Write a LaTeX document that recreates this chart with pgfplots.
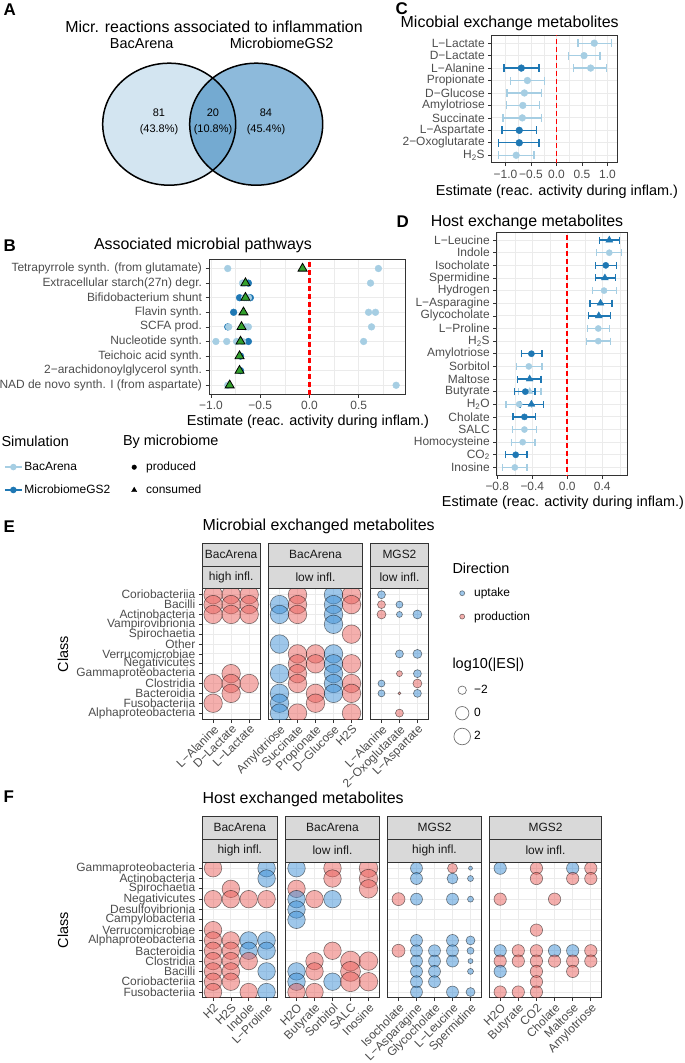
\documentclass[border=0pt]{standalone}
\usepackage{fontspec}
\setmainfont{Liberation Sans}
\usepackage{pgfplots}
\usepackage{pgfplotstable}
\pgfplotsset{compat=1.18}

\definecolor{lb}{HTML}{A6CEE3}
\definecolor{db}{HTML}{1F78B4}
\definecolor{grn}{HTML}{33A02C}
\definecolor{tk}{HTML}{4D4D4D}
\definecolor{gridc}{HTML}{EBEBEB}
\definecolor{frame}{HTML}{333333}
\definecolor{stripc}{HTML}{D9D9D9}
\definecolor{upc}{HTML}{3D8FD6}
\definecolor{prc}{HTML}{E9605C}
\definecolor{vennL}{HTML}{D3E5F1}
\definecolor{vennR}{HTML}{8DBADB}
\definecolor{vennM}{HTML}{74AAD1}
\definecolor{zline}{HTML}{FF0000}

\newcommand{\ftitle}{\fontsize{16}{19}\selectfont}
\newcommand{\faxis}{\fontsize{14.5}{17}\selectfont}
\newcommand{\ftick}{\fontsize{12}{13}\selectfont}
\newcommand{\fnum}{\fontsize{11}{13}\selectfont}
\newcommand{\flet}{\fontsize{17}{20}\selectfont\bfseries}

\pgfplotsset{
  bw/.style={
    scale only axis,
    axis line style={draw=frame, line width=0.9bp},
    xmajorgrids, ymajorgrids, xminorgrids,
    major grid style={draw=gridc, line width=0.9bp},
    minor grid style={draw=gridc, line width=0.45bp},
    tick align=outside, major tick length=3.5bp, minor tick length=0pt,
    tick style={draw=frame, line width=0.7bp},
    xtick pos=bottom, ytick pos=left,
    ticklabel style={font=\ftick, text=tk},
    y dir=reverse,
  },
  zero/.style={forget plot, no marks, solid, draw=zline, color=zline, line width=1.8bp, dash pattern=on 5bp off 3bp},
  facet/.style={
    scale only axis,
    clip marker paths=true,
    axis line style={draw=frame, line width=0.9bp},
    xmajorgrids, ymajorgrids,
    major grid style={draw=gridc, line width=0.9bp},
    tick align=outside, major tick length=3.5bp,
    tick style={draw=frame, line width=0.7bp},
    xtick pos=bottom, ytick pos=left,
    ticklabel style={font=\ftick, text=tk},
    xticklabel style={rotate=45, anchor=north east, inner sep=1bp},
    y dir=reverse,
    ytick={0,...,12},
    colormap={ud}{color(0cm)=(upc) color(1cm)=(prc)},
    point meta min=0, point meta max=1,
  },
  nolab/.style={yticklabels={}, ytick style={draw=none}},
  bub/.style={scatter, only marks, mark=*, point meta=\thisrow{d},
    scatter/use mapped color={draw=black, draw opacity=0.5, fill=mapped color, fill opacity=0.5, line width=0.6bp},
    visualization depends on={\thisrow{r} \as \rad},
    scatter/@pre marker code/.append style={/tikz/mark size=\rad}},
  keyimg/.style={legend image code/.code={\path[draw=none, fill=none] (0bp,-8bp) rectangle (20bp,8bp);
    \draw[mark repeat=2,mark phase=2,##1] plot coordinates {(0bp,0bp) (10bp,0bp) (20bp,0bp)};}},
  ebar/.style={only marks, error bars/.cd, x dir=both, x explicit,
    error bar style={line width=1.3bp},
    error mark options={rotate=90, line width=1.3bp, mark size=#1}},
  hidleg/.style={hide axis, scale only axis, width=10bp, height=10bp,
    xmin=0, xmax=1, ymin=0, ymax=1, legend cell align=left,
    legend style={at={(0,1)}, anchor=north west, draw=none, fill=none,
      inner sep=0pt, row sep=#1, font=\ftick}},
}

% ---------- panel B data
\pgfplotstableread{
x y
-0.83 1
0.70 1
-0.68 2
-0.66 2
0.62 2
-0.62 3
-0.66 3
-0.64 3
0.60 4
0.67 4
-0.82 5
-0.62 5
-0.65 5
0.63 5
-0.95 6
-0.84 6
-0.74 6
-0.68 6
0.55 6
-0.83 9
0.88 9
}\Blight
\pgfplotstableread{
x y
-0.62 2
-0.71 3
-0.60 3
-0.77 4
-0.83 5
-0.62 6
-0.70 7
-0.70 8
}\Bdark
\pgfplotstableread{
x y
-0.07 1
-0.65 2
-0.65 3
-0.67 4
-0.69 5
-0.70 6
-0.71 7
-0.71 8
-0.81 9
}\Btri
\pgfplotstableread{
x y
0 0
0 20
}\Zero

% ---------- panel C data
\pgfplotstableread{
x y lo hi
0.74 1 0.42 1.08
0.54 2 0.23 0.85
0.67 3 0.33 0.98
-0.57 4 -0.90 -0.24
-0.63 5 -0.97 -0.29
-0.66 6 -0.98 -0.33
-0.67 7 -1.05 -0.30
-0.79 10 -1.14 -0.44
}\Clight
\pgfplotstableread{
x y lo hi
-0.69 3 -1.03 -0.34
-0.73 8 -1.07 -0.39
-0.73 9 -1.13 -0.34
}\Cdark

% ---------- panel D data
\pgfplotstableread{
x y lo hi
0.48 2 0.335 0.62
0.42 5 0.29 0.56
0.354 8 0.23 0.48
0.354 9 0.22 0.49
-0.44 11 -0.58 -0.29
-0.55 14 -0.70 -0.41
-0.49 16 -0.63 -0.35
-0.51 17 -0.64 -0.37
-0.60 19 -0.74 -0.46
}\Dlc
\pgfplotstableread{
x y lo hi
-0.43 13 -0.56 -0.30
}\Dlt
\pgfplotstableread{
x y lo hi
0.44 3 0.32 0.56
-0.41 10 -0.52 -0.29
-0.48 13 -0.60 -0.37
-0.49 15 -0.62 -0.36
-0.59 18 -0.71 -0.46
}\Ddc
\pgfplotstableread{
x y lo hi
0.48 1 0.366 0.594
0.43 4 0.32 0.55
0.38 6 0.26 0.51
0.36 7 0.24 0.49
-0.43 12 -0.57 -0.30
-0.41 14 -0.54 -0.27
}\Ddt

% ---------- panel E data (d: 0 uptake, 1 production)
\pgfplotstableread{
x y r d
0 0 9.3 1
1 0 9.3 1
2 0 9.3 1
0 1 9.3 1
1 1 9.3 1
2 1 9.3 1
0 2 9.3 1
1 2 9.3 1
2 2 9.3 1
0 9 9.3 1
0 11 9.3 1
1 8 9.3 1
1 9 9.3 1
1 10 9.3 1
2 9 9.3 1
}\Eone
\pgfplotstableread{
x y r d
0 1 9.3 0
0 2 9.3 0
0 5 9.3 0
0 8 9.3 0
0 10 9.3 0
0 11 9.3 0
0 12 9.3 0
1 0 9.3 1
1 1 9.3 1
1 2 9.3 1
1 6 9.3 1
1 7 9.3 1
1 8 9.3 1
1 9 9.3 1
1 12 9.3 1
2 6 9.3 1
2 7 9.3 1
2 10 9.3 1
2 11 9.3 1
3 0 9.3 0
3 1 9.3 0
3 2 9.3 0
3 3 9.3 0
3 6 9.3 0
3 7 9.3 0
3 8 9.3 0
3 9 9.3 0
3 10 9.3 0
4 0 9.3 1
4 1 9.3 1
4 4 9.3 1
4 7 9.3 1
4 9 9.3 1
4 10 9.3 1
4 12 9.3 1
}\Etwo
\pgfplotstableread{
x y r d
0 0 4 0
0 1 4 1
0 2 4.5 1
0 9 3.5 0
0 10 3.5 0
1 1 3.5 0
1 2 3 0
1 6 4 0
1 8 3 1
1 10 1.5 1
1 12 4 1
2 2 4.5 0
2 6 4.5 0
2 8 4 0
2 9 4.5 1
2 10 4 0
}\Ethree

% ---------- panel F data
\pgfplotstableread{
x y r d
0 0 8.8 1
0 3 8.8 1
0 6 8.8 1
0 7 8.8 1
0 8 8.8 1
0 9 8.8 1
0 10 8.8 1
0 11 8.8 1
0 12 8.8 1
1 2 8.8 1
1 3 8.8 1
1 7 8.8 1
1 8 8.8 1
1 9 8.8 1
1 10 8.8 1
1 11 8.8 1
2 3 8.8 1
2 7 8.8 0
2 8 8.8 0
2 9 8.8 1
2 12 8.8 1
3 0 8.8 0
3 1 8.8 0
3 3 8.8 1
3 7 8.8 0
3 8 8.8 0
3 10 8.8 0
3 12 8.8 0
}\Fone
\pgfplotstableread{
x y r d
0 0 8.8 0
0 2 8.8 1
0 3 8.8 0
0 4 8.8 0
0 5 8.8 0
0 10 8.8 0
0 11 8.8 0
0 12 8.8 1
1 3 8.8 1
1 9 8.8 1
1 10 8.8 1
1 12 8.8 1
2 0 8.8 1
2 1 8.8 1
2 3 8.8 0
2 8 8.8 1
2 11 8.8 0
3 9 10 1
3 10 10 1
3 11 10 1
4 0 9.3 1
4 1 9.3 1
4 2 9.3 1
4 9 9.3 1
4 11 9.3 1
}\Ftwo
\pgfplotstableread{
x y r d
0 3 6.5 1
0 8 6.5 1
1 0 6 0
1 1 6 0
1 3 6 0
1 7 6 0
1 8 6 0
1 9 6 0
1 10 6 0
1 11 6 0
1 12 6 0
2 8 6 0
2 9 6 0
2 10 6 0
2 11 6 0
3 0 5 1
3 1 5.5 0
3 3 6 0
3 7 6 0
3 8 6 0
3 9 6 0
3 12 6 0
4 0 2 0
4 1 3 0
4 3 3 0
4 7 4.5 0
4 8 3.5 0
4 9 2.5 0
4 10 3 0
4 12 4.5 0
}\Fthree
\pgfplotstableread{
x y r d
0 0 6.2 0
0 3 6.2 1
0 8 6.2 0
0 9 6.2 1
0 10 6.2 0
0 12 6.2 1
1 8 6.2 1
1 9 6.2 1
1 12 6.2 1
2 0 6.2 1
2 1 6.2 1
2 6 6.2 1
2 8 6.2 1
2 9 6.2 1
2 10 6.2 1
2 11 6.2 1
2 12 6.2 1
3 3 6.2 1
3 8 6.2 0
3 9 6.2 1
4 0 6.2 0
4 1 6.2 1
4 8 6.2 0
4 9 6.2 1
4 10 6.2 1
5 0 6.2 1
5 1 6.2 1
5 8 6.2 1
5 9 6.2 1
}\Ffour

\newcommand{\strip}[5]{%
  \draw[fill=stripc, draw=frame, line width=0.8bp] (#1,#3) rectangle (#2,#4);
  \node[font=\ftick, text=black!90] at ({(#1+#2)/2},{(#3+#4)/2}) {#5};}

\begin{document}
\begin{tikzpicture}
\path[use as bounding box] (0bp,0bp) rectangle (685bp,-1063bp);

% ================= A: Venn
\begin{axis}[hide axis, scale only axis, at={(0bp,0bp)}, anchor=north west,
  width=350bp, height=200bp, xmin=0, xmax=350, ymin=0, ymax=200, y dir=reverse, clip=false]
\fill[vennL] (axis cs:169.2,124.2) ellipse[x radius=66.5bp, y radius=61bp];
\fill[vennR] (axis cs:256.2,124.2) ellipse[x radius=66.5bp, y radius=61bp];
\begin{scope}
\clip (axis cs:169.2,124.2) ellipse[x radius=66.5bp, y radius=61bp];
\fill[vennM] (axis cs:256.2,124.2) ellipse[x radius=66.5bp, y radius=61bp];
\end{scope}
\draw[line width=1.5bp] (axis cs:169.2,124.2) ellipse[x radius=66.5bp, y radius=61bp];
\draw[line width=1.5bp] (axis cs:256.2,124.2) ellipse[x radius=66.5bp, y radius=61bp];
\end{axis}

% ================= B
\begin{axis}[bw, at={(209bp,-394bp)}, anchor=south west, width=196bp, height=135bp,
  xmin=-1.02, xmax=0.97, ymin=0.35, ymax=9.6,
  xtick={-1,-0.5,0,0.5}, xticklabels={−1.0,−0.5,0.0,0.5},
  minor xtick={-0.75,-0.25,0.25,0.75},
  ytick={1,...,9},
  yticklabels={Tetrapyrrole synth. (from glutamate),Extracellular starch(27n) degr.,Bifidobacterium shunt,Flavin synth.,SCFA prod.,Nucleotide synth.,Teichoic acid synth.,2−arachidonoylglycerol synth.,NAD de novo synth. I (from aspartate)}]
\addplot[db, only marks, mark=*, mark size=3.4bp] table {\Bdark};
\addplot[lb, only marks, mark=*, mark size=3.4bp] table {\Blight};
\addplot[only marks, mark=triangle*, mark size=5.2bp, mark options={fill=grn, draw=black, line width=0.8bp}] table {\Btri};
\addplot[zero, line width=2.3bp] table {\Zero};
\end{axis}

% legends B
\begin{axis}[hidleg=9bp, at={(4bp,-460bp)}, anchor=north west]
\addlegendimage{lb, line width=1.3bp, mark=*, mark size=2.6bp}
\addlegendentry{BacArena}
\addlegendimage{db, line width=1.3bp, mark=*, mark size=2.6bp}
\addlegendentry{MicrobiomeGS2}
\end{axis}
\begin{axis}[hidleg=7bp, at={(124bp,-459bp)}, anchor=north west]
\addlegendimage{only marks, mark=*, black, mark size=2.3bp, keyimg}
\addlegendentry{produced}
\addlegendimage{only marks, mark=triangle*, black, mark size=3bp, keyimg}
\addlegendentry{consumed}
\end{axis}

% ================= C
\begin{axis}[bw, at={(491.7bp,-162.7bp)}, anchor=south west, width=126bp, height=127bp,
  xmin=-1.27, xmax=1.2, ymin=0.4, ymax=10.6,
  xtick={-1,-0.5,0,0.5,1}, xticklabels={−1.0,−0.5,0.0,0.5,1.0},
  minor xtick={-0.75,-0.25,0.25,0.75},
  ytick={1,...,10},
  yticklabels={L−Lactate,D−Lactate,L−Alanine,Propionate,D−Glucose,Amylotriose,Succinate,L−Aspartate,2−Oxoglutarate,H\textsubscript{2}S}]
\addplot[lb, mark=*, mark size=3.4bp, ebar=4bp]
  table[x=x, y=y, x error plus expr=\thisrow{hi}-\thisrow{x}, x error minus expr=\thisrow{x}-\thisrow{lo}] {\Clight};
\addplot[db, mark=*, mark size=3.4bp, ebar=4bp]
  table[x=x, y=y, x error plus expr=\thisrow{hi}-\thisrow{x}, x error minus expr=\thisrow{x}-\thisrow{lo}] {\Cdark};
\addplot[zero] table {\Zero};
\end{axis}

% ================= D
\begin{axis}[bw, at={(496.7bp,-475bp)}, anchor=south west, width=130.6bp, height=242.5bp,
  xmin=-0.807, xmax=0.686, ymin=0.4, ymax=19.6,
  xtick={-0.8,-0.4,0,0.4}, xticklabels={−0.8,−0.4,0.0,0.4},
  minor xtick={-0.6,-0.2,0.2,0.6},
  ytick={1,...,19},
  yticklabels={L−Leucine,Indole,Isocholate,Spermidine,Hydrogen,L−Asparagine,Glycocholate,L−Proline,H\textsubscript{2}S,Amylotriose,Sorbitol,Maltose,Butyrate,H\textsubscript{2}O,Cholate,SALC,Homocysteine,CO\textsubscript{2},Inosine}]
\addplot[zero] table {\Zero};
\addplot[lb, mark=*, mark size=3.1bp, ebar=3.5bp]
  table[x=x, y=y, x error plus expr=\thisrow{hi}-\thisrow{x}, x error minus expr=\thisrow{x}-\thisrow{lo}] {\Dlc};
\addplot[lb, mark=triangle*, mark size=4bp, ebar=3.5bp]
  table[x=x, y=y, x error plus expr=\thisrow{hi}-\thisrow{x}, x error minus expr=\thisrow{x}-\thisrow{lo}] {\Dlt};
\addplot[db, mark=*, mark size=3.1bp, ebar=3.5bp]
  table[x=x, y=y, x error plus expr=\thisrow{hi}-\thisrow{x}, x error minus expr=\thisrow{x}-\thisrow{lo}] {\Ddc};
\addplot[db, mark=triangle*, mark size=4bp, ebar=3.5bp]
  table[x=x, y=y, x error plus expr=\thisrow{hi}-\thisrow{x}, x error minus expr=\thisrow{x}-\thisrow{lo}] {\Ddt};
\end{axis}

% ================= E
\begin{axis}[facet, at={(202.3bp,-719bp)}, anchor=south west, width=57.7bp, height=130.7bp,
  xmin=-0.6, xmax=2.6, ymin=-0.65, ymax=12.6, xtick={0,1,2},
  xticklabels={L−Alanine,D−Lactate,L−Lactate},
  yticklabels={Coriobacteriia,Bacilli,Actinobacteria,Vampirovibrionia,Spirochaetia,Other,Verrucomicrobiae,Negativicutes,Gammaproteobacteria,Clostridia,Bacteroidia,Fusobacteriia,Alphaproteobacteria}]
\addplot[bub] table {\Eone};
\end{axis}
\begin{axis}[facet, nolab, at={(268.7bp,-719bp)}, anchor=south west, width=93.6bp, height=130.7bp,
  xmin=-0.6, xmax=4.6, ymin=-0.65, ymax=12.6, xtick={0,...,4},
  xticklabels={Amylotriose,Succinate,Propionate,D−Glucose,H2S}]
\addplot[bub] table {\Etwo};
\end{axis}
\begin{axis}[facet, nolab, at={(370.7bp,-719bp)}, anchor=south west, width=57.5bp, height=130.7bp,
  xmin=-0.6, xmax=2.6, ymin=-0.65, ymax=12.6, xtick={0,1,2},
  xticklabels={L−Alanine,2−Oxoglutarate,L−Aspartate}]
\addplot[bub] table {\Ethree};
\end{axis}

% legends E
\begin{axis}[hidleg=7.4bp, at={(452bp,-585bp)}, anchor=north west]
\addlegendimage{only marks, mark=*, mark size=2.5bp, mark options={fill=upc, fill opacity=0.5, draw=black, draw opacity=0.5, line width=0.6bp}, keyimg}
\addlegendentry{uptake}
\addlegendimage{only marks, mark=*, mark size=2.5bp, mark options={fill=prc, fill opacity=0.5, draw=black, draw opacity=0.5, line width=0.6bp}, keyimg}
\addlegendentry{production}
\end{axis}
\begin{axis}[hidleg=7bp, at={(452bp,-682bp)}, anchor=north west]
\addlegendimage{only marks, mark=o, mark size=4.2bp, mark options={draw=black!55, line width=0.7bp}, keyimg}
\addlegendentry{−2}
\addlegendimage{only marks, mark=o, mark size=6.7bp, mark options={draw=black!55, line width=0.7bp}, keyimg}
\addlegendentry{0}
\addlegendimage{only marks, mark=o, mark size=8.3bp, mark options={draw=black!55, line width=0.7bp}, keyimg}
\addlegendentry{2}
\end{axis}

% ================= F
\begin{axis}[facet, at={(202.3bp,-997.7bp)}, anchor=south west, width=75bp, height=135.7bp,
  xmin=-0.6, xmax=3.6, ymin=-0.6, ymax=12.55, xtick={0,...,3},
  xticklabels={H2,H2S,Indole,L−Proline},
  yticklabels={Gammaproteobacteria,Actinobacteria,Spirochaetia,Negativicutes,Desulfovibrionia,Campylobacteria,Verrucomicrobiae,Alphaproteobacteria,Bacteroidia,Clostridia,Bacilli,Coriobacteriia,Fusobacteriia}]
\addplot[bub] table {\Fone};
\end{axis}
\begin{axis}[facet, nolab, at={(285.7bp,-997.7bp)}, anchor=south west, width=93.6bp, height=135.7bp,
  xmin=-0.6, xmax=4.6, ymin=-0.6, ymax=12.55, xtick={0,...,4},
  xticklabels={H2O,Butyrate,Sorbitol,SALC,Inosine}]
\addplot[bub] table {\Ftwo};
\end{axis}
\begin{axis}[facet, nolab, at={(387.7bp,-997.7bp)}, anchor=south west, width=93.6bp, height=135.7bp,
  xmin=-0.6, xmax=4.6, ymin=-0.6, ymax=12.55, xtick={0,...,4},
  xticklabels={Isocholate,L−Asparagine,Glycocholate,L−Leucine,Spermidine}]
\addplot[bub] table {\Fthree};
\end{axis}
\begin{axis}[facet, nolab, at={(489.3bp,-997.7bp)}, anchor=south west, width=112.4bp, height=135.7bp,
  xmin=-0.6, xmax=5.6, ymin=-0.6, ymax=12.55, xtick={0,...,5},
  xticklabels={H2O,Butyrate,CO2,Cholate,Maltose,Amylotriose}]
\addplot[bub] table {\Ffour};
\end{axis}

% ================= texts and strips
\begin{scope}[x=1bp, y=-1bp]
\node[anchor=west, font=\flet] at (0,10) {A};
\node[font=\ftitle] at (214,26.7) {Micr. reactions associated to inflammation};
\node[font=\faxis] at (141.7,43.3) {BacArena};
\node[font=\faxis] at (281.7,43.3) {MicrobiomeGS2};
\node[font=\fnum] at (159,113) {81};
\node[font=\fnum] at (159,129.5) {(43.8\%)};
\node[font=\fnum] at (213,113) {20};
\node[font=\fnum] at (213,129.5) {(10.8\%)};
\node[font=\fnum] at (266,113) {84};
\node[font=\fnum] at (266,129.5) {(45.4\%)};

\node[anchor=west, font=\flet] at (0,246) {B};
\node[font=\ftitle] at (203,245) {Associated microbial pathways};
\node[font=\faxis] at (308,422) {Estimate (reac. activity during inflam.)};
\node[anchor=west, font=\faxis] at (-2,441.7) {Simulation};
\node[anchor=west, font=\faxis] at (119.5,441.7) {By microbiome};

\node[anchor=west, font=\flet] at (392,9) {C};
\node[font=\ftitle] at (509.7,23) {Micobial exchange metabolites};
\node[font=\faxis] at (557,191.7) {Estimate (reac. activity during inflam.)};

\node[anchor=west, font=\flet] at (393,222) {D};
\node[font=\ftitle] at (527,222) {Host exchange metabolites};
\node[font=\faxis] at (563,502.7) {Estimate (reac. activity during inflam.)};

\node[anchor=west, font=\flet] at (0,527) {E};
\node[anchor=west, font=\ftitle, inner sep=0pt] at (202.3,526) {Microbial exchanged metabolites};
\node[rotate=90, font=\faxis] at (63,654) {Class};
\strip{202.3}{260}{543.3}{566}{BacArena}
\strip{202.3}{260}{566}{588.3}{high infl.}
\strip{268.7}{362.3}{543.3}{566}{BacArena}
\strip{268.7}{362.3}{566}{588.3}{low infl.}
\strip{370.7}{428.2}{543.3}{566}{MGS2}
\strip{370.7}{428.2}{566}{588.3}{low infl.}
\node[anchor=west, font=\faxis] at (449,568) {Direction};
\node[anchor=west, font=\faxis] at (449,665) {log10(|ES|)};

\node[anchor=west, font=\flet] at (0,797) {F};
\node[anchor=west, font=\ftitle, inner sep=0pt] at (202.3,799) {Host exchanged metabolites};
\node[rotate=90, font=\faxis] at (63,930) {Class};
\strip{202.3}{277.3}{816}{839}{BacArena}
\strip{202.3}{277.3}{839}{862}{high infl.}
\strip{285.7}{379.3}{816}{839}{BacArena}
\strip{285.7}{379.3}{839}{862}{low infl.}
\strip{387.7}{481.3}{816}{839}{MGS2}
\strip{387.7}{481.3}{839}{862}{high infl.}
\strip{489.3}{601.7}{816}{839}{MGS2}
\strip{489.3}{601.7}{839}{862}{low infl.}
\end{scope}
\end{tikzpicture}
\end{document}
